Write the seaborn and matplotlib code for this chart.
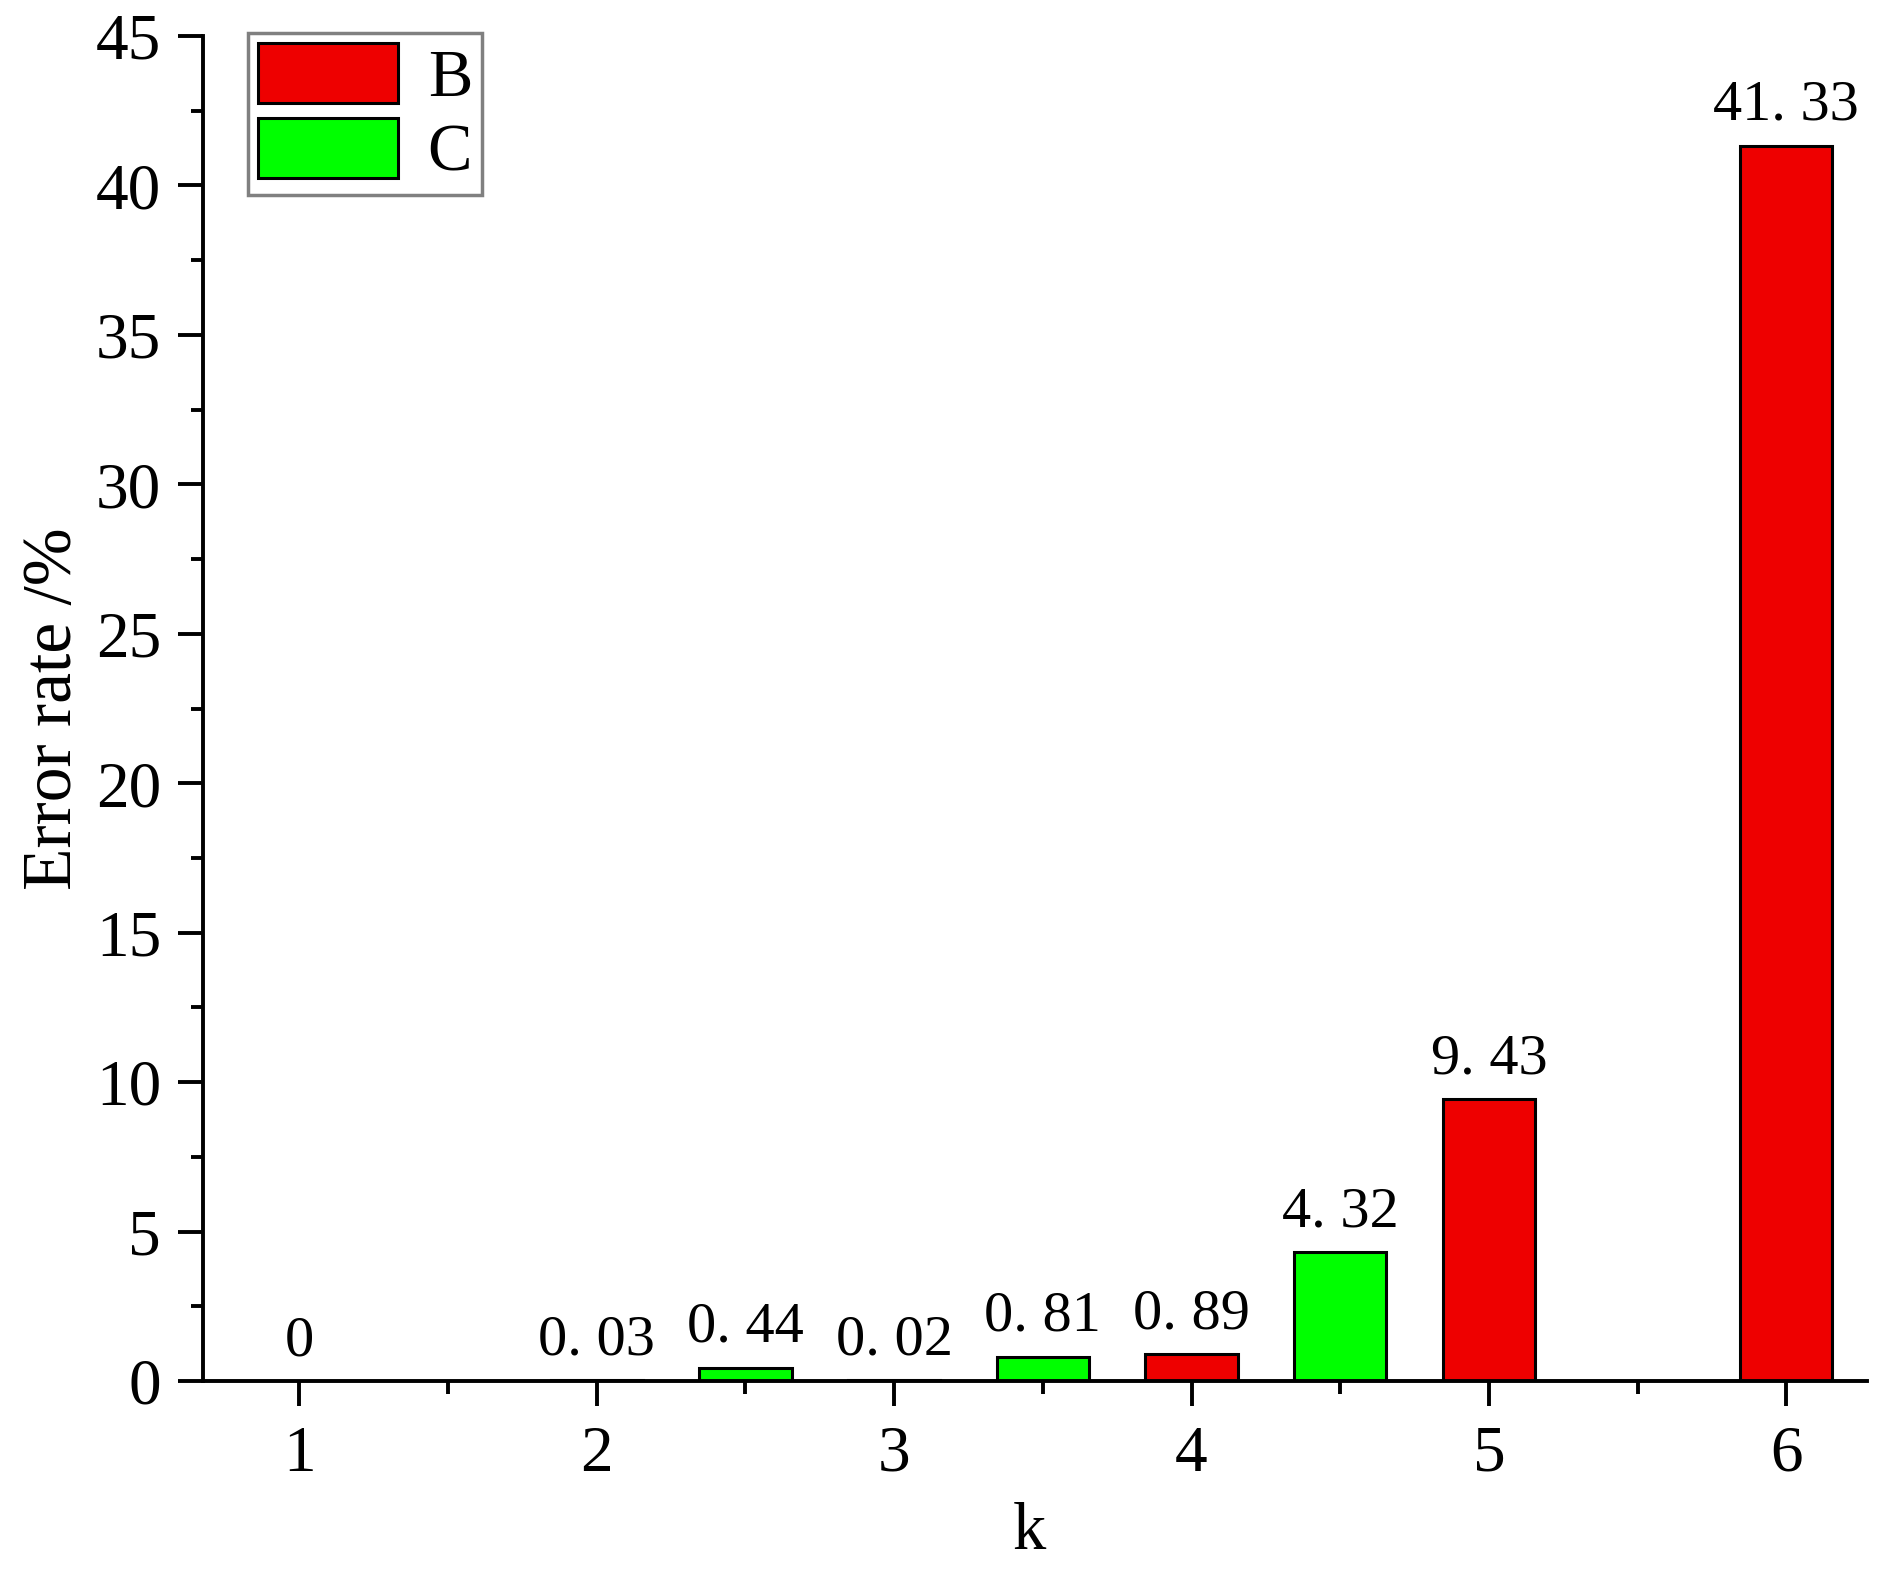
import matplotlib
matplotlib.use("Agg")
import matplotlib.pyplot as plt
from matplotlib.ticker import MultipleLocator
import seaborn as sns
import pandas as pd

# data
k_b = [1, 2, 3, 4, 5, 6]
rate_b = [0, 0.03, 0.02, 0.89, 9.43, 41.33]
k_c = [2.5, 3.5, 4.5]
rate_c = [0.44, 0.81, 4.32]
series_names = ["B", "C"]
series_colors = ["#ee0000", "#00ff00"]
x_ticks = [1, 2, 3, 4, 5, 6]

df = pd.DataFrame({
    "k": k_b + k_c,
    "rate": rate_b + rate_c,
    "series": [series_names[0]] * len(k_b) + [series_names[1]] * len(k_c),
})

sns.set_style("ticks")
plt.rcParams["font.family"] = ["Liberation Serif", "DejaVu Serif"]
plt.rcParams["text.color"] = "black"
plt.rcParams["axes.labelcolor"] = "black"
plt.rcParams["xtick.color"] = "black"
plt.rcParams["ytick.color"] = "black"
plt.rcParams["axes.edgecolor"] = "black"

fig = plt.figure(figsize=(18.95, 15.74), dpi=100)
ax = fig.add_axes([0.107, 0.1226, 0.878, 0.8545])

sns.barplot(data=df, x="k", y="rate", hue="series", hue_order=series_names,
            palette=series_colors, saturation=1, native_scale=True, dodge=False,
            width=0.62, edgecolor="black", linewidth=2.2, ax=ax)


def fmt(v):
    if v == 0:
        return "0"
    return ("%.2f" % v).replace(".", ". ")


for cont in ax.containers:
    labels = [fmt(b.get_height()) for b in cont]
    ax.bar_label(cont, labels=labels, padding=10, fontsize=42, color="black")

ax.set_xlim(0.675, 6.27)
ax.set_ylim(0, 45)
ax.set_xticks(x_ticks)
ax.set_xticklabels([str(t) for t in x_ticks])
ax.xaxis.set_minor_locator(MultipleLocator(0.5))
ax.yaxis.set_major_locator(MultipleLocator(5))
ax.yaxis.set_minor_locator(MultipleLocator(2.5))

sns.despine(ax=ax)
for s in ["left", "bottom"]:
    ax.spines[s].set_linewidth(2.8)
ax.tick_params(which="major", length=18, width=2.8, labelsize=47, pad=12, color="black")
ax.tick_params(which="minor", length=9, width=2.8, color="black")
ax.tick_params(axis="x", which="major", pad=14)

ax.set_ylabel("Error rate /%", fontsize=50)
ax.set_xlabel("k", fontsize=48)
ax.yaxis.set_label_coords(-0.070, 0.5)
ax.xaxis.set_label_coords(0.497, -0.09)
ax.xaxis.label.set_va("top")

leg = ax.legend(loc="upper left", bbox_to_anchor=(0.027, 1.002), fontsize=48,
                handlelength=2.1, handleheight=1.0, labelspacing=0.12,
                handletextpad=0.45, borderpad=0.15, borderaxespad=0,
                fancybox=False, frameon=True)
leg.get_frame().set_edgecolor("#808080")
leg.get_frame().set_linewidth(2.5)
leg.get_frame().set_alpha(1)

fig.savefig("out.png", dpi=100)
